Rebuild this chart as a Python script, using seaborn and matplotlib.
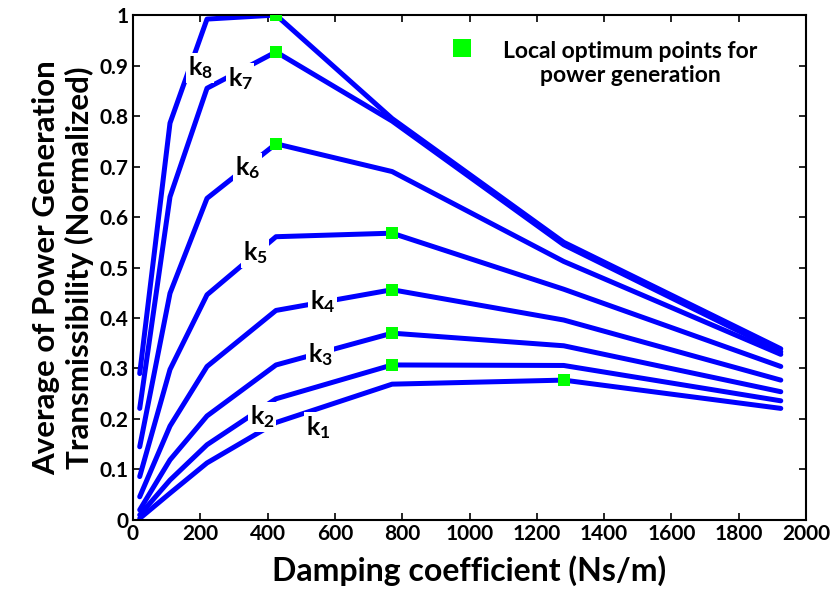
import numpy as np
import pandas as pd
import matplotlib
matplotlib.use("Agg")
import matplotlib.pyplot as plt
from matplotlib.lines import Line2D
import seaborn as sns

# ---- data ----
damping = [20, 110, 220, 425, 770, 1280, 1925]
k1 = [0.003, 0.053, 0.113, 0.193, 0.269, 0.277, 0.221]
k2 = [0.010, 0.079, 0.149, 0.240, 0.307, 0.306, 0.236]
k3 = [0.020, 0.119, 0.206, 0.307, 0.370, 0.345, 0.254]
k4 = [0.046, 0.186, 0.304, 0.415, 0.456, 0.396, 0.277]
k5 = [0.086, 0.298, 0.446, 0.561, 0.568, 0.457, 0.304]
k6 = [0.145, 0.449, 0.637, 0.745, 0.690, 0.512, 0.328]
k7 = [0.221, 0.640, 0.855, 0.927, 0.790, 0.545, 0.333]
k8 = [0.290, 0.786, 0.992, 1.000, 0.795, 0.550, 0.339]
series_names = ["k1", "k2", "k3", "k4", "k5", "k6", "k7", "k8"]
series_values = [k1, k2, k3, k4, k5, k6, k7, k8]
optimum_x = [1280, 770, 770, 770, 770, 425, 425, 425]
label_x = [550, 383, 556, 562, 363, 339, 318, 199]
label_y = [0.184, 0.204, 0.327, 0.432, 0.529, 0.697, 0.875, 0.895]
legend_label = "Local optimum points for\npower generation"
x_label = "Damping coefficient (Ns/m)"
y_label = "Average of Power Generation\nTransmissibility (Normalized)"

rows = []
for name, vals in zip(series_names, series_values):
    for xv, yv in zip(damping, vals):
        rows.append({"c": xv, "T": yv, "k": name})
df = pd.DataFrame(rows)

opt_rows = []
for name, vals, ox in zip(series_names, series_values, optimum_x):
    opt_rows.append({"c": ox, "T": vals[damping.index(ox)], "k": name})
opt = pd.DataFrame(opt_rows)

sns.set_theme(style="ticks")
plt.rcParams["font.family"] = ["Lato", "DejaVu Sans"]
plt.rcParams["font.weight"] = "bold"
plt.rcParams["text.color"] = "black"
plt.rcParams["axes.labelcolor"] = "black"
plt.rcParams["xtick.color"] = "black"
plt.rcParams["ytick.color"] = "black"
plt.rcParams["mathtext.fontset"] = "custom"
plt.rcParams["mathtext.rm"] = "Lato:bold"
plt.rcParams["mathtext.it"] = "Lato:bold"
plt.rcParams["mathtext.bf"] = "Lato:bold"

fig = plt.figure(figsize=(8.39, 5.94), dpi=100)
ax = fig.add_axes([0.1585, 0.1246, 0.8022, 0.8501])

sns.lineplot(data=df, x="c", y="T", hue="k", palette=["#0000ff"] * 8,
             linewidth=3.6, legend=False, ax=ax, zorder=2,
             solid_capstyle="round", solid_joinstyle="round")
sns.scatterplot(data=opt, x="c", y="T", marker="s", color="#00ff00",
                s=80, linewidth=0, ax=ax, zorder=3, legend=False)

for name, lx, ly in zip(series_names, label_x, label_y):
    ax.text(lx, ly, "$k_{%s}$" % name[1:], fontsize=18, color="black",
            ha="center", va="center", zorder=4,
            bbox=dict(facecolor="white", edgecolor="none", pad=1.5))

ax.set_xlim(0, 2000)
ax.set_ylim(0, 1)
ax.set_xticks(np.arange(0, 2001, 200))
ax.set_yticks(np.arange(0, 1.01, 0.1))
ax.set_yticklabels(["0", "0.1", "0.2", "0.3", "0.4", "0.5", "0.6", "0.7", "0.8", "0.9", "1"])
ax.tick_params(direction="in", length=5, width=1.2, top=True, right=True,
               labelsize=15, pad=3, colors="black")
for lab in ax.get_xticklabels() + ax.get_yticklabels():
    lab.set_fontweight("bold")
for sp in ax.spines.values():
    sp.set_visible(True)
    sp.set_linewidth(1.5)
    sp.set_color("black")

ax.set_xlabel(x_label, fontsize=23, fontweight="bold", labelpad=8)
ax.set_ylabel(y_label, fontsize=22.5, fontweight="bold", labelpad=4)

handle = Line2D([], [], linestyle="none", marker="s", color="#00ff00",
                markersize=13, markeredgewidth=0)
leg = ax.legend([handle], [legend_label], loc="upper right",
                bbox_to_anchor=(0.958, 0.99), frameon=False,
                prop={"size": 16.5, "weight": "bold"}, handletextpad=1.3,
                handlelength=1.0)
for t in leg.get_texts():
    t.set_multialignment("center")
# align the legend square with the first text line
lh = leg.legend_handles[0]
lh.set_ydata(np.asarray(lh.get_ydata()) + 11.5)

fig.savefig("out.png", dpi=100)
